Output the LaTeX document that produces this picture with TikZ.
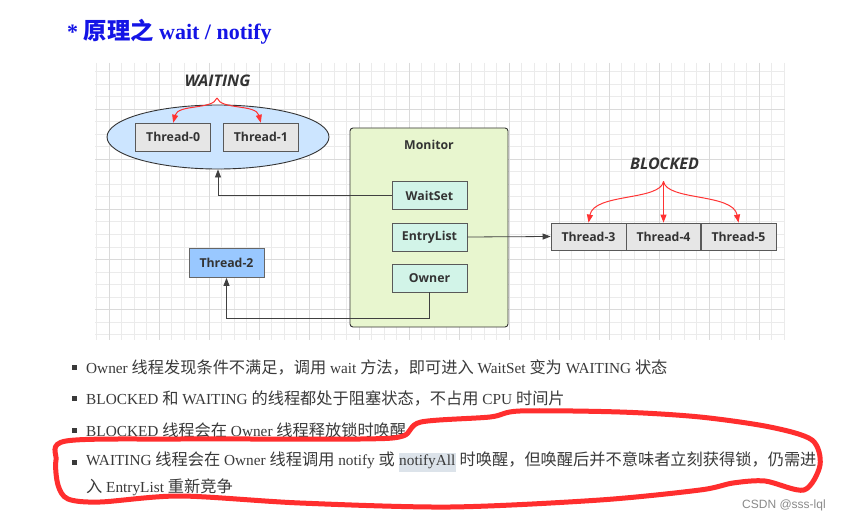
\documentclass[tikz,border=0pt]{standalone}
\usepackage{fontspec}
\setmainfont{Liberation Serif}
\newfontfamily\cjk[Scale=1.06]{Noto Sans CJK SC}
\newfontfamily\osans{Open Sans}
\newfontfamily\wmfont{Liberation Sans}
\usetikzlibrary{arrows.meta,shapes.geometric}
\definecolor{titleblue}{HTML}{1414E6}
\definecolor{txtc}{HTML}{3A3A3A}
\definecolor{lbl}{HTML}{333333}
\definecolor{ellblue}{HTML}{CCE5FF}
\definecolor{thrgray}{HTML}{E6E6E6}
\definecolor{thrblue}{HTML}{99C8FF}
\definecolor{monfill}{HTML}{E8F6CF}
\definecolor{infill}{HTML}{D2F4E8}
\definecolor{redc}{HTML}{FF3333}
\definecolor{penred}{HTML}{FF2E2E}
\definecolor{gridminor}{HTML}{EBEBEB}
\definecolor{gridmajor}{HTML}{DADADA}
\definecolor{hlc}{HTML}{DCE3EA}
\definecolor{wmc}{HTML}{8A8A8A}
\tikzset{
  thr/.style={draw=black!65, fill=thrgray, line width=0.8pt, minimum width=75pt, minimum height=28pt, inner sep=0pt, font=\osans\bfseries\fontsize{12.3}{14}\selectfont, text=lbl},
  thrtwo/.style={thr, fill=thrblue, draw=black!60},
  inbox/.style={thr, fill=infill},
  statelbl/.style={font=\osans\bfseries\itshape\fontsize{16}{18}\selectfont, text=black!80},
  conn/.style={draw=black!75, line width=0.8pt, -{Triangle[length=8pt,width=6pt]}},
  redarr/.style={draw=redc, line width=1pt, -{Triangle[length=8pt,width=6pt]}},
  bul/.style={anchor=west, font=\fontsize{15.3}{18}\selectfont, text=txtc, inner sep=0pt},
  sq/.style={fill=txtc, minimum size=5pt, inner sep=0pt},
}
\begin{document}
\begin{tikzpicture}[x=1pt,y=-1pt]
\useasboundingbox[fill=white] (0,0) rectangle (842,521);
% grid
\begin{scope}
\clip (95,63) rectangle (785,340);
\foreach \i in {0,...,56} {
  \pgfmathsetmacro\xx{96.7+\i*12.5}
  \draw[gridminor, line width=0.6pt] (\xx,63) -- (\xx,340);
}
\foreach \i in {0,...,23} {
  \pgfmathsetmacro\yy{59.3+\i*12.5}
  \draw[gridminor, line width=0.6pt] (95,\yy) -- (785,\yy);
}
\foreach \i in {0,...,14} {
  \pgfmathsetmacro\xx{109.3+\i*50}
  \draw[gridmajor, line width=0.8pt] (\xx,63) -- (\xx,340);
}
\foreach \i in {0,...,5} {
  \pgfmathsetmacro\yy{59.3+\i*50}
  \draw[gridmajor, line width=0.8pt] (95,\yy) -- (785,\yy);
}
\end{scope}
% title
\node[anchor=west, text=titleblue, font=\bfseries\fontsize{22}{26}\selectfont, inner sep=0pt] (title) at (67,32) {* {\cjk 原理之} wait / notify};
% waiting group
\node[ellipse, draw=black!80, fill=ellblue, line width=0.9pt, minimum width=222pt, minimum height=64pt, inner sep=0pt] (ell) at (218,137) {};
\node[thr] (t0) at (173.2,137.2) {Thread-0};
\node[thr] (t1) at (260.8,137.2) {Thread-1};
\node[statelbl] (wlbl) at (217.5,80.5) {WAITING};
\coordinate (wroot) at (217,98);
\draw[redarr] (wroot) .. controls (213,110) and (178,104) .. (t0.north);
\draw[redarr] (wroot) .. controls (221,110) and (256,104) .. (t1.north);
% monitor
\node[draw=black!80, fill=monfill, line width=0.9pt, rounded corners=3pt, minimum width=158pt, minimum height=199pt, inner sep=0pt] (mon) at (429,227.5) {};
\node[font=\osans\bfseries\fontsize{12.3}{14}\selectfont, text=lbl] (monlbl) at (429,145) {Monitor};
\node[inbox] (ws) at (429.5,195.5) {WaitSet};
\node[inbox] (el) at (429.5,237) {EntryList};
\node[inbox] (ow) at (429.5,278) {Owner};
% thread-2
\node[thrtwo, minimum height=29pt] (t2) at (226.5,263) {Thread-2};
% blocked group
\node[thr, minimum height=27pt] (t3) at (588.5,236.5) {Thread-3};
\node[thr, minimum height=27pt, minimum width=74.5pt] (t4) at (663.5,236.5) {Thread-4};
\node[thr, minimum height=27pt] (t5) at (738.5,236.5) {Thread-5};
\node[statelbl] (blbl) at (664.5,163.3) {BLOCKED};
\coordinate (broot) at (663.5,181.5);
\draw[redarr] (broot) .. controls (660,201) and (594,193) .. (t3.north);
\draw[redarr] (broot) -- (t4.north);
\draw[redarr] (broot) .. controls (667,201) and (733,193) .. (t5.north);
% connectors
\draw[conn] (ws.west) -| (ell.south);
\draw[conn] (el.east) -- (t3.west);
\coordinate (owc) at (429.5,318);
\draw[conn] (ow.south) -- (owc) -| (t2.south);
% bullets
\node[sq] (s1) at (74,367) {};
\node[bul] (b1) at (86,367) {Owner {\cjk 线程发现条件不满足，调用} wait {\cjk 方法，即可进入} WaitSet {\cjk 变为} WAITING {\cjk 状态}};
\node[sq] (s2) at (74,398) {};
\node[bul] (b2) at (86,398) {BLOCKED {\cjk 和} WAITING {\cjk 的线程都处于阻塞状态，不占用} CPU {\cjk 时间片}};
\node[sq] (s3) at (74,430) {};
\node[bul] (b3) at (86,430) {BLOCKED {\cjk 线程会在} Owner {\cjk 线程释放锁时唤醒}};
\node[sq] (s4) at (74,462) {};
\node[bul] (b4) at (86,462) {WAITING {\cjk 线程会在} Owner {\cjk 线程调用} notify {\cjk 或} {\setlength\fboxsep{0.5pt}\colorbox{hlc}{\strut notifyAll}} {\cjk 时唤醒，但唤醒后并不意味者立刻获得锁，仍需进}};
\node[bul] (b4b) at (86,487) {{\cjk 入} EntryList {\cjk 重新竞争}};
% watermark
\node[anchor=west, font=\wmfont\fontsize{12}{14}\selectfont, text=wmc, inner sep=0pt] (wm) at (742,505) {CSDN @sss-lql};
% red pen annotation
\draw[penred, line width=5pt, line cap=round, line join=round]
  plot[smooth cycle, tension=0.5] coordinates {
  (66,441) (180,439) (360,439) (403,436) (421,422) (490,417) (520,411) (620,412)
  (700,417) (770,427) (812,440) (820,465) (804,490) (765,481) (733,483) (700,490)
  (600,500) (450,507) (300,503) (180,496) (100,502) (68,499) (58,485) (56,460)};
\end{tikzpicture}
\end{document}
